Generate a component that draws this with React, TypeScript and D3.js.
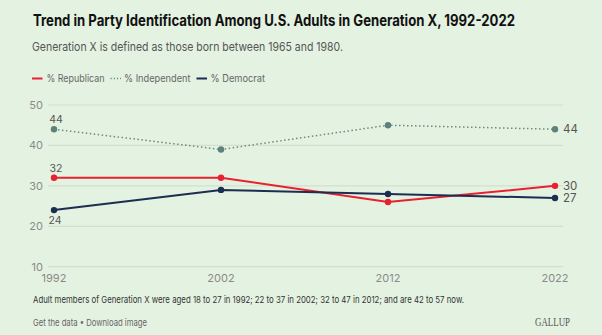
import React from "react";
import * as d3 from "d3";

const years = [1992, 2002, 2012, 2022];
const republican = [32, 32, 26, 30];
const independent = [44, 39, 45, 44];
const democrat = [24, 29, 28, 27];
const yTicks = [10, 20, 30, 40, 50];

const W = 602;
const H = 335;
const FONT = "Inter, 'Noto Sans', sans-serif";

const series = [
  { name: "% Republican", values: republican, color: "#e8202f", dash: "", dot: "#e8202f" },
  { name: "% Independent", values: independent, color: "#6b8a85", dash: "1.5,2.5", dot: "#5f817c" },
  { name: "% Democrat", values: democrat, color: "#1c2d52", dash: "", dot: "#1c2d52" },
];

export default function App() {
  const x = d3.scalePoint<number>().domain(years).range([54, 555]);
  const y = d3.scaleLinear().domain([10, 50]).range([266.7, 105]);
  const line = d3
    .line<number>()
    .x((_, i) => x(years[i]) as number)
    .y((d) => y(d));

  const legendItems = [
    { sx: 32, tx: 46.5, w: 58, label: "% Republican", s: series[0] },
    { sx: 110.5, tx: 124, w: 66.5, label: "% Independent", s: series[1] },
    { sx: 196.5, tx: 210.5, w: 54.5, label: "% Democrat", s: series[2] },
  ];

  const first = years[0];
  const last = years[years.length - 1];

  // end labels with simple collision avoidance
  const ends = series
    .map((s) => ({ name: s.name, v: s.values[s.values.length - 1], yy: y(s.values[s.values.length - 1]) }))
    .sort((a, b) => a.yy - b.yy);
  const minGap = 12.5;
  for (let i = 1; i < ends.length; i++) {
    const gap = ends[i].yy - ends[i - 1].yy;
    if (gap < minGap) {
      const shift = (minGap - gap) / 2;
      ends[i - 1].yy -= shift;
      ends[i].yy += shift;
    }
  }

  return (
    <svg
      width={W}
      height={H}
      style={{ position: "absolute", left: 0, top: 0, background: "#e4f2e1" }}
      fontFamily={FONT}
    >
      <rect width={W} height={H} fill="#e4f2e1" />
      <text x={33} y={26} fontSize={15.3} fontWeight={700} fill="#111" textLength={482} lengthAdjust="spacingAndGlyphs">
        Trend in Party Identification Among U.S. Adults in Generation X, 1992-2022
      </text>
      <text x={32} y={51} fontSize={12.3} fill="#555" textLength={311} lengthAdjust="spacingAndGlyphs">
        Generation X is defined as those born between 1965 and 1980.
      </text>
      {legendItems.map((it) => (
        <g key={it.label}>
          <line
            x1={it.sx}
            x2={it.sx + 10.5}
            y1={78.5}
            y2={78.5}
            stroke={it.s.color}
            strokeWidth={it.s.dash ? 1.3 : 2}
            strokeDasharray={it.s.dash ? "1.2,2" : undefined}
          />
          <text x={it.tx} y={82.3} fontSize={10.5} fill="#666" textLength={it.w} lengthAdjust="spacingAndGlyphs">
            {it.label}
          </text>
        </g>
      ))}
      {yTicks.map((t) => (
        <g key={t}>
          <line x1={48} x2={563} y1={y(t)} y2={y(t)} stroke="#d2e0ce" strokeWidth={1.2} />
          <text x={43} y={y(t) + 4} fontSize={11} fill="#8a8a8a" textAnchor="end">
            {t}
          </text>
        </g>
      ))}
      {years.map((yr) => (
        <text key={yr} x={x(yr)} y={282} fontSize={11} fill="#8a8a8a" textAnchor="middle">
          {yr}
        </text>
      ))}
      {series.map((s) => (
        <g key={s.name}>
          <path
            d={line(s.values) || ""}
            fill="none"
            stroke={s.color}
            strokeWidth={s.dash ? 1.5 : 2}
            strokeDasharray={s.dash || undefined}
          />
          {s.values.map((v, i) => (
            <circle key={i} cx={x(years[i])} cy={y(v)} r={3.2} fill={s.dot} />
          ))}
        </g>
      ))}
      {/* first-point labels */}
      <text x={x(first)! + 2} y={y(independent[0]) - 6} fontSize={10.5} fill="#555" textAnchor="middle">
        {independent[0]}
      </text>
      <text x={x(first)! + 2} y={y(republican[0]) - 6} fontSize={10.5} fill="#555" textAnchor="middle">
        {republican[0]}
      </text>
      <text x={x(first)! + 1} y={y(democrat[0]) + 14} fontSize={10.5} fill="#555" textAnchor="middle">
        {democrat[0]}
      </text>
      {/* last-point labels */}
      {ends.map((e) => (
        <text key={e.name + "end"} x={x(last)! + 8} y={e.yy + 4} fontSize={11.5} fill="#555">
          {e.v}
        </text>
      ))}
      <text x={33} y={302.5} fontSize={9.6} fill="#333" textLength={431} lengthAdjust="spacingAndGlyphs">
        Adult members of Generation X were aged 18 to 27 in 1992; 22 to 37 in 2002; 32 to 47 in 2012; and are 42 to 57 now.
      </text>
      <text x={33} y={325.5} fontSize={9.6} fill="#666" textLength={114} lengthAdjust="spacingAndGlyphs">
        Get the data • Download image
      </text>
      <text
        x={535}
        y={326}
        fontSize={11.5}
        fill="#555"
        fontFamily="'Liberation Serif', 'DejaVu Serif', serif"
        textLength={35}
        lengthAdjust="spacingAndGlyphs"
      >
        GALLUP
      </text>
    </svg>
  );
}
